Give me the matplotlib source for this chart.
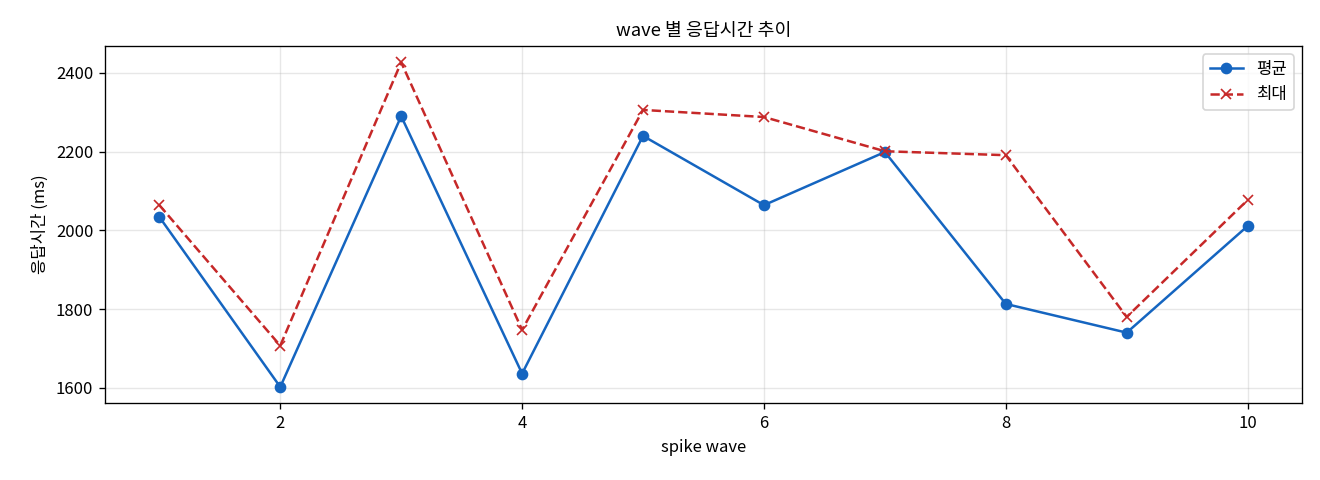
import matplotlib
matplotlib.use('Agg')
import matplotlib.pyplot as plt

plt.rcParams['font.family'] = ['Noto Sans CJK KR', 'DejaVu Sans']
plt.rcParams['axes.unicode_minus'] = False

waves = [1, 2, 3, 4, 5, 6, 7, 8, 9, 10]
avg_ms = [2034, 1602, 2290, 1636, 2240, 2064, 2199, 1813, 1740, 2011]
max_ms = [2064, 1707, 2427, 1747, 2306, 2288, 2201, 2191, 1780, 2077]

fig, ax = plt.subplots(figsize=(11, 4), dpi=120)
ax.plot(waves, avg_ms, color='#1565c0', marker='o', markersize=6,
        linewidth=1.5, label='평균')
ax.plot(waves, max_ms, color='#c62828', marker='x', markersize=6,
        linewidth=1.5, linestyle='--', label='최대')

ax.set_title('wave 별 응답시간 추이', fontsize=11)
ax.set_xlabel('spike wave', fontsize=10)
ax.set_ylabel('응답시간 (ms)', fontsize=10)
ax.set_yticks([1600, 1800, 2000, 2200, 2400])
ax.tick_params(labelsize=10)
ax.grid(True, alpha=0.3)
ax.legend(loc='upper right')

fig.subplots_adjust(left=0.0795, right=0.9864, top=0.904, bottom=0.160)
fig.savefig('out.png', dpi=120)
